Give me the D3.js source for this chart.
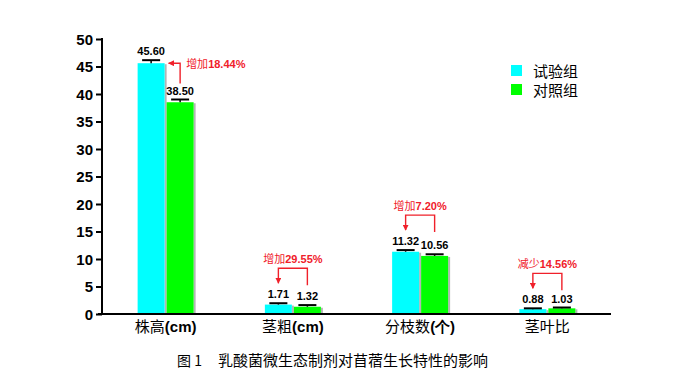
<!DOCTYPE html>
<html>
<head>
<meta charset="utf-8">
<script src="https://cdn.jsdelivr.net/npm/d3@7"></script>
<style>
  html, body { margin: 0; padding: 0; background: #fff; }
  svg { display: block; }
</style>
</head>
<body>
<svg id="chart" width="690" height="383"></svg>
<script>
// ---- data ----
const categoriesCJK = ["株高", "茎粗", "分枝数", "茎叶比"];
const categoriesLatin = ["(cm)", "(cm)", "(个)", ""];
const seriesNames = ["试验组", "对照组"];
const trialValues = [45.60, 1.71, 11.32, 0.88];
const controlValues = [38.50, 1.32, 10.56, 1.03];
const trialErrors = [0.55, 0.25, 0.3, 0.15];
const controlErrors = [0.5, 0.3, 0.3, 0.15];
const changeWords = ["增加", "增加", "增加", "减少"];
const changePercents = ["18.44%", "29.55%", "7.20%", "14.56%"];
const arrowKinds = ["left", "down", "down", "down"];
const yTicks = [0, 5, 10, 15, 20, 25, 30, 35, 40, 45, 50];
const captionLabel = "图 1";
const captionText = "乳酸菌微生态制剂对苜蓿生长特性的影响";

// ---- layout ----
const svg = d3.select("#chart");
const pL = 102, pR = 611, pT = 39, pB = 314;
const colors = ["#00ffff", "#00ff00"];
const red = "#f0202a";
const latin = "'Liberation Sans', Arial, sans-serif";
const cjk = "'Noto Sans CJK SC', sans-serif";

const x = d3.scaleBand().domain(d3.range(categoriesCJK.length)).range([pL, pR]).paddingInner(0).paddingOuter(0);
const y = d3.scaleLinear().domain([0, 50]).range([pB, pT]);
const barW = 27, gap = 2;

// arrowhead marker
const defs = svg.append("defs");
defs.append("marker").attr("id", "ah").attr("viewBox", "0 0 10 10")
  .attr("refX", 9).attr("refY", 5).attr("markerWidth", 6).attr("markerHeight", 6)
  .attr("markerUnits", "userSpaceOnUse").attr("orient", "auto")
  .append("path").attr("d", "M0,0 L10,5 L0,10 Z").attr("fill", red);

const series = [trialValues, controlValues];
const errs = [trialErrors, controlErrors];

function barX(i, s) {
  const c = x(i) + x.bandwidth() / 2;
  return s === 0 ? c - gap / 2 - barW : c + gap / 2;
}

// bars
series.forEach((vals, s) => {
  const g = svg.append("g");
  g.selectAll("rect.sh").data(vals).join("rect")
    .attr("x", (d, i) => barX(i, s) + barW)
    .attr("y", d => y(d) + 1)
    .attr("width", 2)
    .attr("height", d => pB - y(d) - 1)
    .attr("fill", "#b4b4b4");
  g.selectAll("rect.b").data(vals).join("rect")
    .attr("x", (d, i) => barX(i, s))
    .attr("y", d => y(d))
    .attr("width", barW)
    .attr("height", d => pB - y(d))
    .attr("fill", colors[s]);
  g.selectAll("line.e").data(vals).join("line")
    .attr("x1", (d, i) => barX(i, s) + barW / 2)
    .attr("x2", (d, i) => barX(i, s) + barW / 2)
    .attr("y1", d => y(d))
    .attr("y2", (d, i) => y(d + errs[s][i]))
    .attr("stroke", "#000").attr("stroke-width", 1.5);
  g.selectAll("line.c").data(vals).join("line")
    .attr("x1", (d, i) => barX(i, s) + barW / 2 - 9)
    .attr("x2", (d, i) => barX(i, s) + barW / 2 + 9)
    .attr("y1", (d, i) => y(d + errs[s][i]))
    .attr("y2", (d, i) => y(d + errs[s][i]))
    .attr("stroke", "#000").attr("stroke-width", 2);
  g.selectAll("text").data(vals).join("text")
    .attr("x", (d, i) => barX(i, s) + barW / 2)
    .attr("y", (d, i) => y(d + errs[s][i]) - 5)
    .attr("text-anchor", "middle")
    .attr("font-family", latin).attr("font-weight", "bold").attr("font-size", 11)
    .attr("fill", "#000")
    .text(d => d.toFixed(2));
});

// y axis
const yAxis = d3.axisLeft(y).tickValues(yTicks).tickSize(6).tickPadding(3).tickFormat(d3.format("d"));
const ya = svg.append("g").attr("transform", `translate(${pL},0)`).call(yAxis);
ya.select(".domain").attr("stroke", "#000").attr("stroke-width", 2).attr("d", `M0,${pT - 1}V${pB}`);
ya.selectAll(".tick line").attr("stroke", "#000").attr("stroke-width", 2);
ya.selectAll(".tick text").attr("font-family", latin).attr("font-weight", "bold").attr("font-size", 15).attr("fill", "#000").attr("dy", "0.35em");

// x axis line
svg.append("line").attr("x1", pL - 4).attr("x2", pR).attr("y1", pB).attr("y2", pB)
  .attr("stroke", "#000").attr("stroke-width", 2);

// x labels
const xl = svg.append("g").selectAll("text").data(categoriesCJK).join("text")
  .attr("x", (d, i) => x(i) + x.bandwidth() / 2)
  .attr("y", 332)
  .attr("text-anchor", "middle")
  .attr("font-size", 15).attr("fill", "#000");
xl.append("tspan").attr("font-family", cjk).text(d => d);
xl.append("tspan").attr("font-family", latin).attr("font-weight", "bold").text((d, i) => categoriesLatin[i]);

// annotations
const ann = svg.append("g");
categoriesCJK.forEach((c, i) => {
  const cx0 = barX(i, 0) + barW / 2;
  const cx1 = barX(i, 1) + barW / 2;
  const topVal = y(trialValues[i] + trialErrors[i]);
  const labelTop1 = y(controlValues[i] + controlErrors[i]) - 16;
  if (arrowKinds[i] === "left") {
    const yl = y(trialValues[i]);
    ann.append("path")
      .attr("d", `M${cx1},${labelTop1} V${yl} H${barX(i, 0) + barW + 4}`)
      .attr("fill", "none").attr("stroke", red).attr("stroke-width", 1.4)
      .attr("marker-end", "url(#ah)");
    const t = ann.append("text").attr("x", cx1 + 6).attr("y", yl + 5)
      .attr("font-size", 11).attr("fill", red);
    t.append("tspan").attr("font-family", cjk).text(changeWords[i]);
    t.append("tspan").attr("font-family", latin).attr("font-weight", "bold").text(changePercents[i]);
  } else {
    const yt = topVal - 35;
    ann.append("path")
      .attr("d", `M${cx1},${yt + 17} V${yt} H${cx0} V${yt + 15}`)
      .attr("fill", "none").attr("stroke", red).attr("stroke-width", 1.4)
      .attr("marker-end", "url(#ah)");
    const t = ann.append("text").attr("x", (cx0 + cx1) / 2).attr("y", yt - 5)
      .attr("text-anchor", "middle").attr("font-size", 11).attr("fill", red);
    t.append("tspan").attr("font-family", cjk).text(changeWords[i]);
    t.append("tspan").attr("font-family", latin).attr("font-weight", "bold").text(changePercents[i]);
  }
});

// legend
const lg = svg.append("g");
seriesNames.forEach((n, s) => {
  lg.append("rect").attr("x", 511).attr("y", 65 + s * 19).attr("width", 11).attr("height", 11).attr("fill", colors[s]);
  lg.append("text").attr("x", 533).attr("y", 77 + s * 19)
    .attr("font-family", cjk).attr("font-size", 15).attr("fill", "#000").text(n);
});

// caption
svg.append("text").attr("x", 177).attr("y", 366).attr("font-family", cjk).attr("font-size", 14)
  .attr("fill", "#000").text(captionLabel);
svg.append("text").attr("x", 218).attr("y", 366).attr("font-family", cjk).attr("font-size", 15)
  .attr("fill", "#000").text(captionText);
</script>
</body>
</html>
